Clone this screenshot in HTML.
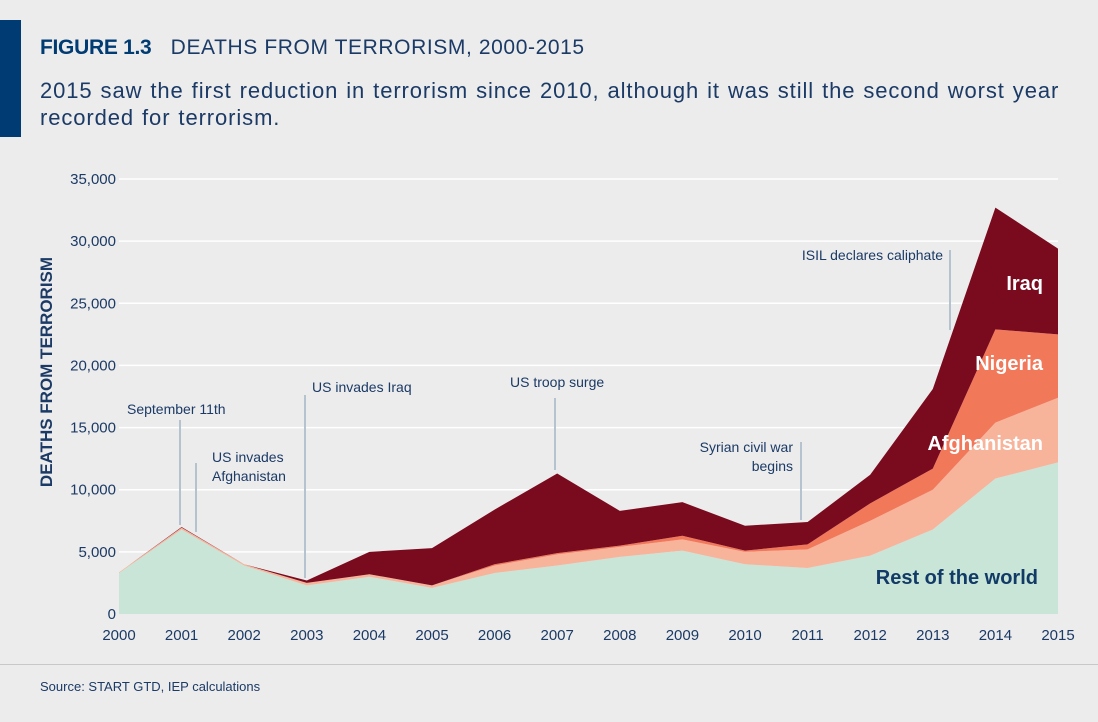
<!DOCTYPE html>
<html><head><meta charset="utf-8"><style>
body{margin:0;background:#ececec;font-family:"Liberation Sans",sans-serif;}
#wrap{position:relative;width:1098px;height:722px;overflow:hidden;background:#ececec;}
</style></head><body>
<div id="wrap">
<div style="position:absolute;left:0;top:20px;width:21px;height:117px;background:#003b73"></div>
<div style="position:absolute;left:40px;top:36px;font-size:21px;letter-spacing:0.6px;color:#1b3a66;white-space:nowrap"><b style="color:#003b73;letter-spacing:-0.3px">FIGURE 1.3</b>&nbsp;&nbsp; DEATHS FROM TERRORISM, 2000-2015</div>
<div style="position:absolute;left:40px;top:77px;font-size:22px;line-height:27px;letter-spacing:0.9px;word-spacing:1px;color:#1b3a66;white-space:nowrap">2015 saw the first reduction in terrorism since 2010, although it was still the second worst year<br>recorded for terrorism.</div>
<svg id="chart" width="1098" height="722" style="position:absolute;left:0;top:0"></svg>
<div style="position:absolute;left:0;top:664px;width:1098px;height:1px;background:#c8c8c8"></div>
<div style="position:absolute;left:40px;top:679px;font-size:13px;color:#1b3a66">Source: START GTD, IEP calculations</div>
</div>
<script>
const years=[2000,2001,2002,2003,2004,2005,2006,2007,2008,2009,2010,2011,2012,2013,2014,2015];
const restWorld=[3300,6800,3900,2300,3000,2100,3300,3900,4600,5100,4000,3700,4700,6800,10900,12200];
const afghanistan=[50,150,100,200,200,200,600,900,800,900,1000,1500,2800,3200,4500,5200];
const nigeria=[0,0,0,0,0,0,100,100,100,300,100,400,1400,1700,7500,5100];
const iraq=[0,50,0,200,1800,3000,4400,6400,2800,2700,2000,1800,2300,6400,9800,6900];
const yTicks=[0,5000,10000,15000,20000,25000,30000,35000];
const yTickLabels=["0","5,000","10,000","15,000","20,000","25,000","30,000","35,000"];

const NS="http://www.w3.org/2000/svg";
const svg=document.getElementById('chart');
const x=yr=>119+(yr-2000)*(1058-119)/15;
const y=v=>614-v*(614-179)/35000;
function mk(t,a){const e=document.createElementNS(NS,t);for(const k in a)e.setAttribute(k,a[k]);svg.appendChild(e);return e;}
yTicks.forEach((t,i)=>{
 if(t>0){const g=mk('line',{x1:119,x2:1058,y1:y(t),y2:y(t),stroke:'#ffffff','stroke-width':1.5});
 
 }
 const l=mk('text',{x:116,y:y(t)+5,'text-anchor':'end','font-size':15,fill:'#1b3a66'});
 l.textContent=yTickLabels[i];
 
 
});
years.forEach(yr=>{
 const l=mk('text',{x:x(yr),y:640,'text-anchor':'middle','font-size':15,fill:'#1b3a66'});
 l.textContent=yr;
 
 
});
const layers=[[restWorld,'#c9e5d7','area-rest-of-world'],[afghanistan,'#f7b49b','area-afghanistan'],[nigeria,'#f2785a','area-nigeria'],[iraq,'#7a0a1e','area-iraq']];
let base=years.map(()=>0);
layers.forEach(([vals,col,name])=>{
 const top=base.map((b,i)=>b+vals[i]);
 let d='M'+years.map((yr,i)=>x(yr)+','+y(top[i])).join('L');
 for(let i=years.length-1;i>=0;i--)d+='L'+x(years[i])+','+y(base[i]);
 const p=mk('path',{d:d+'Z',fill:col});
 
 
 base=top;
});
const ann=[[180,420,525,'September 11th',127,414,'start'],[196,463,532,'',0,0,''],[305,395,578,'US invades Iraq',312,392,'start'],[555,398,470,'US troop surge',510,387,'start'],[801,442,520,'',0,0,''],[950,250,330,'ISIL declares caliphate',943,260,'end']];
ann.forEach(a=>{
 const l=mk('line',{x1:a[0],x2:a[0],y1:a[1],y2:a[2],stroke:'#b4c3cf','stroke-width':2});
 
 
 if(a[3]){const t=mk('text',{x:a[4],y:a[5],'font-size':14,fill:'#1b3a66','text-anchor':a[6]});t.textContent=a[3];
 
 }
});
[['US invades',212,462,'start'],['Afghanistan',212,481,'start'],['Syrian civil war',793,452,'end'],['begins',793,471,'end']].forEach(a=>{
 const t=mk('text',{x:a[1],y:a[2],'font-size':14,fill:'#1b3a66','text-anchor':a[3]});t.textContent=a[0];
 
 
});
[['Iraq',1043,290,'#fff'],['Nigeria',1043,370,'#fff'],['Afghanistan',1043,450,'#fff'],['Rest of the world',1038,584,'#123a66']].forEach(a=>{
 const t=mk('text',{x:a[1],y:a[2],'font-size':20,'font-weight':'bold',fill:a[3],'text-anchor':'end'});t.textContent=a[0];
 
 
});
const yt=mk('text',{x:0,y:0,'font-size':17,'font-weight':'bold',fill:'#1b3a66','text-anchor':'middle',transform:'translate(52,372) rotate(-90)'});
yt.textContent='DEATHS FROM TERRORISM';


</script>
</body></html>
